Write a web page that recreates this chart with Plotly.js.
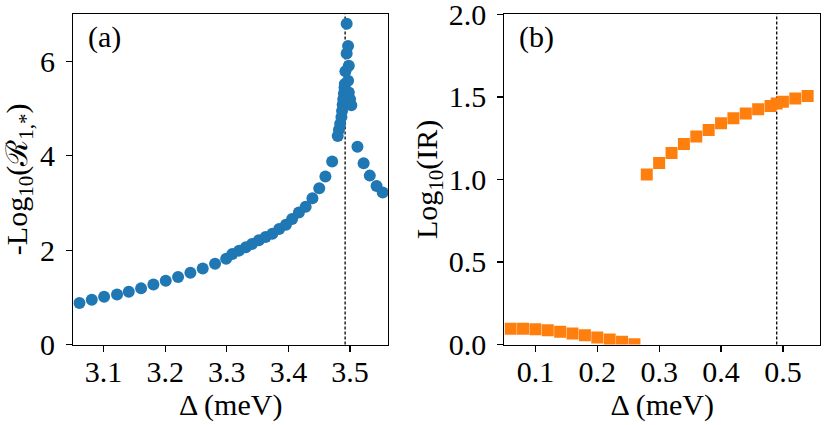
<!DOCTYPE html>
<html>
<head>
<meta charset="utf-8">
<script src="https://cdn.plot.ly/plotly-3.0.1.min.js"></script>
<style>
  html, body { margin: 0; padding: 0; background: #fff; }
  #chart { width: 830px; height: 425px; }
</style>
</head>
<body>
<div id="chart"></div>
<script>
// panel (a): -log10(R) against Delta
const deltaA = [
  3.061, 3.081, 3.101, 3.122, 3.141, 3.161, 3.181, 3.201, 3.221, 3.241, 3.261, 3.281, 3.299,
  3.309, 3.320, 3.331, 3.341, 3.352, 3.363, 3.374, 3.385, 3.396, 3.406, 3.417, 3.428,
  3.439, 3.450, 3.460, 3.471,
  3.480, 3.482, 3.484, 3.486, 3.487, 3.488, 3.489, 3.490, 3.491, 3.4915,
  3.4925, 3.4945, 3.4945, 3.4968, 3.4968, 3.498, 3.498, 3.500, 3.502,
  3.512, 3.522, 3.532, 3.543, 3.553
];
const logR = [
  0.88, 0.95, 1.01, 1.06, 1.12, 1.19, 1.27, 1.35, 1.43, 1.52, 1.61, 1.71, 1.82,
  1.92, 1.99, 2.06, 2.13, 2.21, 2.28, 2.35, 2.45, 2.54, 2.66, 2.80, 2.92,
  3.10, 3.31, 3.56, 3.88,
  4.42, 4.55, 4.68, 4.82, 4.95, 5.08, 5.20, 5.32, 5.45, 5.52,
  5.79, 6.17, 6.80, 6.33, 5.59, 5.91, 5.34, 5.20, 5.07,
  4.19, 3.84, 3.58, 3.36, 3.22
];

// panel (b): log10(IR) against Delta
const deltaB = [
  0.06, 0.08, 0.10, 0.12, 0.14, 0.16, 0.18, 0.20, 0.22, 0.24, 0.26,
  0.28, 0.30, 0.32, 0.34, 0.36, 0.38, 0.40, 0.42, 0.44, 0.46, 0.48, 0.49, 0.50, 0.52, 0.54
];
const logIR = [
  0.095, 0.096, 0.092, 0.087, 0.077, 0.067, 0.056, 0.042, 0.030, 0.016, 0.002,
  1.03, 1.10, 1.16, 1.215, 1.26, 1.30, 1.34, 1.37, 1.40, 1.425, 1.445, 1.46, 1.47, 1.49, 1.505
];

const resonanceA = 3.492;
const resonanceB = 0.49;

const ticksAx = [3.1, 3.2, 3.3, 3.4, 3.5];
const ticksAy = [0, 2, 4, 6];
const ticksBx = [0.1, 0.2, 0.3, 0.4, 0.5];
const ticksBy = [0, 0.5, 1.0, 1.5, 2.0];

const FONT = "'Liberation Serif', 'Times New Roman', serif";
const FS = 30;

function axisBase(extra) {
  return {
    showgrid: false,
    zeroline: false,
    showline: true,
    linecolor: '#000',
    linewidth: 1.2,
    mirror: true,
    ticks: 'outside',
    ticklen: 6,
    tickwidth: 1.2,
    tickcolor: '#000',
    ticklabeloverflow: 'allow',
    tickfont: { family: FONT, size: FS, color: '#000' },
    ...extra,
  };
}

const traces = [
  {
    type: 'scatter', mode: 'markers',
    x: deltaA, y: logR, xaxis: 'x', yaxis: 'y',
    marker: { symbol: 'circle', size: 12, color: '#1f77b4', line: { width: 0 } },
    cliponaxis: true,
  },
  {
    type: 'scatter', mode: 'markers',
    x: deltaB, y: logIR, xaxis: 'x2', yaxis: 'y2',
    marker: { symbol: 'square', size: 12, color: '#ff7f0e', line: { width: 0 } },
    cliponaxis: true,
  },
];

const layout = {
  width: 830, height: 425,
  margin: { l: 0, r: 0, t: 0, b: 0 },
  paper_bgcolor: '#fff',
  plot_bgcolor: '#fff',
  showlegend: false,
  font: { family: FONT, color: '#000' },
  xaxis: axisBase({
    domain: [0.0883, 0.4675], range: [3.051, 3.5616], anchor: 'y',
    tickvals: ticksAx, ticktext: ticksAx.map(v => v.toFixed(1)),
    ticklabelstandoff: -6,
    title: { text: 'Δ (meV)', font: { family: FONT, size: FS }, standoff: 0 },
  }),
  yaxis: axisBase({
    domain: [0.1894, 0.9664], range: [0, 7], anchor: 'x',
    tickvals: ticksAy, ticktext: ticksAy.map(String),
    ticklabelstandoff: 5,
    title: { text: '-Log<sub>10</sub>(ℛ<sub>1,*</sub>)', font: { family: FONT, size: FS }, standoff: 10 },
  }),
  xaxis2: axisBase({
    domain: [0.6078, 0.9880], range: [0.05, 0.56], anchor: 'y2',
    tickvals: ticksBx, ticktext: ticksBx.map(v => v.toFixed(1)),
    ticklabelstandoff: -6,
    title: { text: 'Δ (meV)', font: { family: FONT, size: FS }, standoff: 0 },
  }),
  yaxis2: axisBase({
    domain: [0.1894, 0.9664], range: [0, 2.0005], anchor: 'x2',
    tickvals: ticksBy, ticktext: ticksBy.map(v => v.toFixed(1)),
    ticklabelstandoff: 5,
    title: { text: 'Log<sub>10</sub>(IR)', font: { family: FONT, size: FS }, standoff: 2 },
  }),
  shapes: [
    { type: 'line', layer: 'below', xref: 'x', yref: 'y domain', x0: resonanceA, x1: resonanceA, y0: 0, y1: 1,
      line: { color: '#000', width: 1.3, dash: '3px,2px' } },
    { type: 'line', layer: 'below', xref: 'x2', yref: 'y2 domain', x0: resonanceB, x1: resonanceB, y0: 0, y1: 1,
      line: { color: '#000', width: 1.3, dash: '3px,2px' } },
  ],
  annotations: [
    { text: '(a)', xref: 'x domain', yref: 'y domain', x: 0.04, y: 0.99, xanchor: 'left', yanchor: 'top',
      showarrow: false, font: { family: FONT, size: FS, color: '#000' } },
    { text: '(b)', xref: 'x2 domain', yref: 'y2 domain', x: 0.04, y: 0.99, xanchor: 'left', yanchor: 'top',
      showarrow: false, font: { family: FONT, size: FS, color: '#000' } },
  ],
};

Plotly.newPlot('chart', traces, layout, { displayModeBar: false, staticPlot: true });
</script>
</body>
</html>
